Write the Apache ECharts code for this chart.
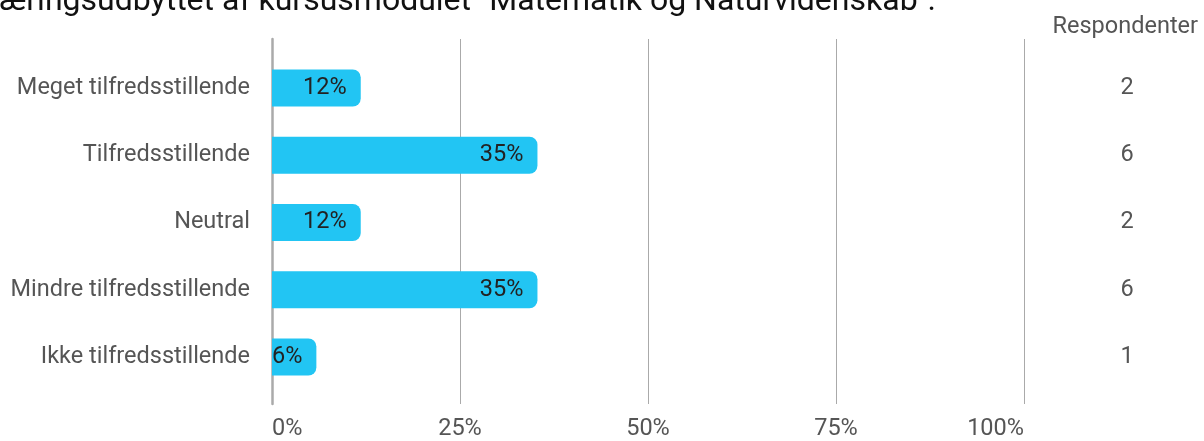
<!DOCTYPE html>
<html>
<head>
<meta charset="utf-8">
<script src="https://cdn.jsdelivr.net/npm/echarts@6/dist/echarts.min.js"></script>
<style>
html,body{margin:0;padding:0;background:#fff;}
#chart{width:1204px;height:441px;}
</style>
</head>
<body>
<div id="chart"></div>
<script>
const titleText = 'Læringsudbyttet af kursusmodulet "Matematik og Naturvidenskab".';
const categories = ['Meget tilfredsstillende','Tilfredsstillende','Neutral','Mindre tilfredsstillende','Ikke tilfredsstillende'];
const percentages = [11.8, 35.3, 11.8, 35.3, 5.9];
const respondents = [2, 6, 2, 6, 1];
const xTicks = [0, 25, 50, 75, 100];

const FONT = 'Roboto';
const FS = 23.5;
const chart = echarts.init(document.getElementById('chart'), null, {renderer:'canvas'});
const gridLeft = 272, gridRight = 180;
chart.setOption({
  animation: false,
  textStyle: {fontFamily: FONT},
  graphic: [
    {type:'text', left: -18, top: -14, style:{text:titleText, fontFamily:FONT, fontSize:32, fill:'#111'}},
    {type:'text', right: 6, top: 15, style:{text:'Respondenter', fontFamily:FONT, fontSize:FS, fill:'#555'}}
  ],
  grid: [
    {left: gridLeft, right: gridRight, top: 39, bottom: 35},
    {left: gridLeft, right: gridRight, top: 54.4, bottom: 441 - 390.6}
  ],
  xAxis: [
    {gridIndex:0, type:'value', min: xTicks[0], max: xTicks[xTicks.length-1], interval: 25,
     axisLine:{show:false}, axisTick:{show:false},
     splitLine:{show:true, lineStyle:{color:'#aaa', width:1}},
     axisLabel:{formatter:'{value}%', fontSize:FS, color:'#555', margin:13, alignMinLabel:'left', alignMaxLabel:'right', fontFamily:FONT}},
    {gridIndex:1, type:'value', min: 0, max: 100, show:false}
  ],
  yAxis: [
    {gridIndex:0, type:'category', data:categories, inverse:true,
     axisLine:{show:true, lineStyle:{color:'#aaa', width:2.5}}, axisTick:{show:false}, axisLabel:{show:false}, splitLine:{show:false}},
    {gridIndex:1, type:'category', data:categories, inverse:true,
     axisLine:{show:false}, axisTick:{show:false},
     axisLabel:{fontSize:FS, color:'#555', margin:22, fontFamily:FONT}},
    {gridIndex:1, type:'category', data:respondents, inverse:true, position:'right',
     axisLine:{show:false}, axisTick:{show:false},
     axisLabel:{fontSize:FS, color:'#555', margin:103, align:'center', fontFamily:FONT}}
  ],
  series: [{
    type:'bar', xAxisIndex:1, yAxisIndex:1, data: percentages, barWidth: 37,
    itemStyle:{color:'#22c5f3', borderRadius:[0,8,8,0]},
    label:{show:true, position:'insideRight', distance:14, fontSize:FS, color:'#222', fontFamily:FONT,
      formatter: p => Math.round(p.value) + '%'}
  }]
});
</script>
</body>
</html>
